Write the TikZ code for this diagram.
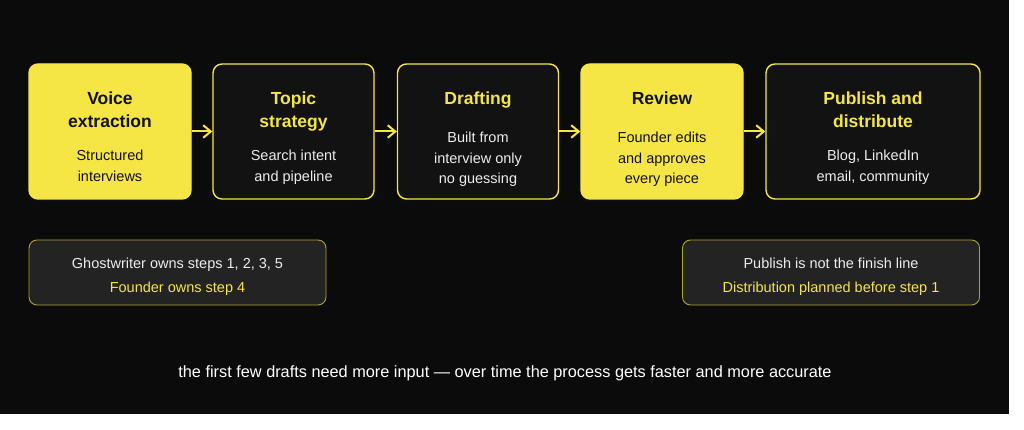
\documentclass[tikz,border=0pt]{standalone}
\usepackage{fontspec}
\setmainfont{Liberation Sans}
\usetikzlibrary{arrows.meta}
\definecolor{bgcol}{HTML}{0B0B0B}
\definecolor{ylw}{HTML}{F5E545}
\definecolor{darkbox}{HTML}{121212}
\definecolor{notefill}{HTML}{232323}
\definecolor{noteline}{HTML}{B0A22C}
\definecolor{ink}{HTML}{111111}
\definecolor{lighttext}{HTML}{EDEDED}
\tikzset{
  stepbox/.style={draw=ylw, line width=1.4pt, rounded corners=9pt, inner sep=0pt},
  ybox/.style={stepbox, fill=ylw},
  dbox/.style={stepbox, fill=darkbox},
  notebox/.style={draw=noteline, line width=0.9pt, fill=notefill, rounded corners=8pt, inner sep=0pt,
    minimum width=297pt, minimum height=65pt},
  ttl/.style={anchor=base, inner sep=0pt, font=\fontsize{17.5}{21}\selectfont\bfseries},
  bdy/.style={anchor=base, inner sep=0pt, font=\fontsize{14.5}{17}\selectfont},
  capt/.style={anchor=base, inner sep=0pt, font=\fontsize{16.3}{19}\selectfont},
  flow/.style={draw=ylw, line width=2pt, -{Straight Barb[length=7.5pt,width=12.5pt,line width=2pt]}},
}
\begin{document}
\begin{tikzpicture}[x=1pt,y=-1pt]
\useasboundingbox (0,0) rectangle (1024,430);
\fill[white] (0,0) rectangle (1024,430);
\fill[bgcol] (0,0) rectangle (1009,414);

% step boxes
\node[ybox, minimum width=162pt, minimum height=135pt] (b1) at (110,131.5) {};
\node[dbox, minimum width=161pt, minimum height=135pt] (b2) at (293.5,131.5) {};
\node[dbox, minimum width=161pt, minimum height=135pt] (b3) at (478,131.5) {};
\node[ybox, minimum width=162pt, minimum height=135pt] (b4) at (662,131.5) {};
\node[dbox, minimum width=214pt, minimum height=135pt] (b5) at (873,131.5) {};

% box 1
\node[ttl, text=ink] (t1a) at (110,104.3) {Voice};
\node[ttl, text=ink] (t1b) at (110,127.7) {extraction};
\node[bdy, text=ink] (d1a) at (110,161) {Structured};
\node[bdy, text=ink] (d1b) at (110,181.7) {interviews};
% box 2
\node[ttl, text=ylw] (t2a) at (293.5,104.3) {Topic};
\node[ttl, text=ylw] (t2b) at (293.5,127.7) {strategy};
\node[bdy, text=lighttext] (d2a) at (293.5,161) {Search intent};
\node[bdy, text=lighttext] (d2b) at (293.5,181.7) {and pipeline};
% box 3
\node[ttl, text=ylw] (t3a) at (478,104.3) {Drafting};
\node[bdy, text=lighttext] (d3a) at (478,142.5) {Built from};
\node[bdy, text=lighttext] (d3b) at (478,163.2) {interview only};
\node[bdy, text=lighttext] (d3c) at (478,183.9) {no guessing};
% box 4
\node[ttl, text=ink] (t4a) at (662,104.3) {Review};
\node[bdy, text=ink] (d4a) at (662,142.5) {Founder edits};
\node[bdy, text=ink] (d4b) at (662,163.2) {and approves};
\node[bdy, text=ink] (d4c) at (662,183.9) {every piece};
% box 5
\node[ttl, text=ylw] (t5a) at (873,104.3) {Publish and};
\node[ttl, text=ylw] (t5b) at (873,127.7) {distribute};
\node[bdy, text=lighttext] (d5a) at (873,161) {Blog, LinkedIn};
\node[bdy, text=lighttext] (d5b) at (873,181.7) {email, community};

% arrows
\draw[flow] (b1.east) -- (b2.west);
\draw[flow] (b2.east) -- (b3.west);
\draw[flow] (b3.east) -- (b4.west);
\draw[flow] (b4.east) -- (b5.west);

% notes
\node[notebox] (n1) at (177.5,272.5) {};
\node[bdy, text=lighttext] (n1a) at (177.5,268.3) {Ghostwriter owns steps 1, 2, 3, 5};
\node[bdy, text=ylw] (n1b) at (177.5,292) {Founder owns step 4};
\node[notebox] (n2) at (831,272.5) {};
\node[bdy, text=lighttext] (n2a) at (831,268.3) {Publish is not the finish line};
\node[bdy, text=ylw] (n2b) at (831,292) {Distribution planned before step 1};

% caption
\node[capt, text=white] (cap) at (505,377.4) {the first few drafts need more input — over time the process gets faster and more accurate};
\end{tikzpicture}
\end{document}
